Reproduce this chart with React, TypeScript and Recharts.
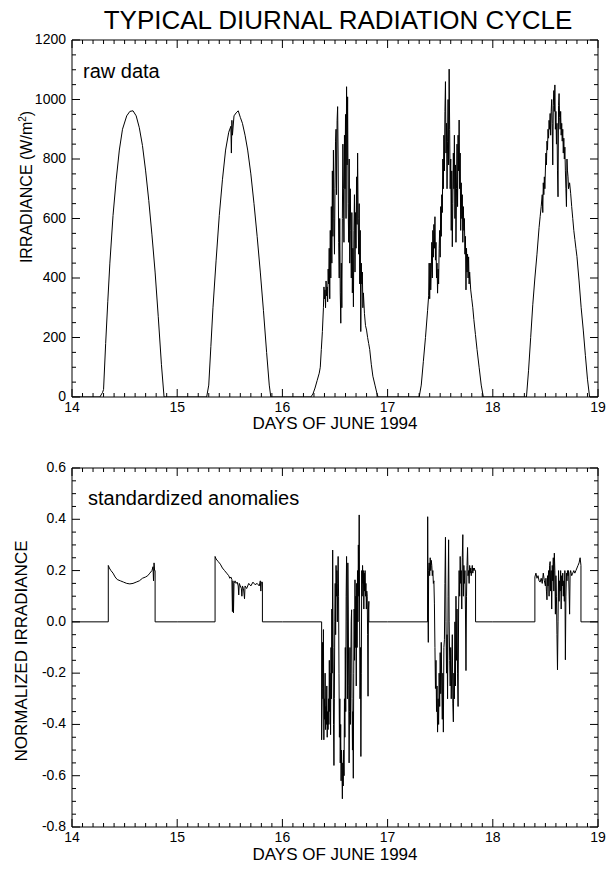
import { LineChart, Line, XAxis, YAxis } from 'recharts'

const FONT = '"Liberation Sans", Arial, Helvetica, sans-serif'

const dayTicks = [14, 15, 16, 17, 18, 19]
const irradianceTicks = [0, 200, 400, 600, 800, 1000, 1200]
const anomalyTicks = [-0.8, -0.6, -0.4, -0.2, 0, 0.2, 0.4, 0.6]

// raw irradiance (W/m2) as [day, value]
const rawJune14: [number, number][] = [
  [14, 0], [14.265, 0], [14.29, 15], [14.3, 25], [14.32, 180], [14.34, 320], [14.36, 450],
  [14.39, 610], [14.42, 730], [14.45, 830], [14.48, 900], [14.52, 945], [14.55, 960],
  [14.58, 962], [14.61, 945], [14.64, 905], [14.67, 845], [14.7, 760], [14.73, 660],
  [14.76, 545], [14.79, 420], [14.82, 270], [14.85, 110], [14.875, 0],
]
const rawJune15: [number, number][] = [
  [15, 0], [15.28, 0], [15.3, 40], [15.32, 170], [15.34, 300], [15.37, 460], [15.4, 610],
  [15.43, 730], [15.46, 830], [15.49, 890], [15.51, 910], [15.515, 820], [15.52, 930],
  [15.525, 880], [15.54, 945], [15.56, 955], [15.58, 962], [15.6, 940], [15.62, 920],
  [15.645, 880], [15.67, 830], [15.7, 750], [15.73, 650], [15.76, 540], [15.79, 420],
  [15.82, 290], [15.85, 150], [15.875, 40], [15.89, 0],
]
const rawJune16: [number, number][] = [
  [16, 0], [16.27, 0], [16.29, 10], [16.31, 30], [16.33, 55], [16.35, 80], [16.36, 100],
  [16.37, 160], [16.38, 220], [16.39, 300], [16.395, 370], [16.4, 330], [16.405, 360],
  [16.41, 300], [16.415, 390], [16.42, 340], [16.425, 370], [16.43, 320], [16.435, 430],
  [16.44, 380], [16.445, 500], [16.45, 330], [16.455, 560], [16.46, 400], [16.465, 640],
  [16.47, 450], [16.475, 760], [16.48, 540], [16.485, 830], [16.49, 600], [16.495, 480],
  [16.5, 700], [16.505, 860], [16.51, 900], [16.515, 680], [16.52, 930], [16.525, 976],
  [16.53, 800], [16.535, 520], [16.54, 400], [16.545, 600], [16.55, 350], [16.555, 248],
  [16.56, 450], [16.565, 300], [16.57, 600], [16.575, 850], [16.58, 700], [16.585, 520],
  [16.59, 880], [16.595, 700], [16.6, 950], [16.605, 600], [16.61, 1043], [16.615, 780],
  [16.62, 1009], [16.625, 650], [16.63, 520], [16.635, 800], [16.64, 450], [16.645, 700],
  [16.65, 560], [16.655, 400], [16.66, 620], [16.665, 350], [16.67, 500], [16.675, 303],
  [16.68, 560], [16.685, 680], [16.69, 420], [16.695, 620], [16.7, 500], [16.705, 740],
  [16.71, 580], [16.715, 820], [16.72, 600], [16.725, 480], [16.73, 650], [16.735, 380],
  [16.74, 560], [16.745, 220], [16.75, 450], [16.755, 380], [16.76, 420], [16.765, 300],
  [16.77, 350], [16.78, 280], [16.79, 240], [16.8, 225], [16.81, 200], [16.82, 180],
  [16.83, 160], [16.845, 110], [16.86, 70], [16.88, 40], [16.9, 10], [16.91, 0],
]
const rawJune17: [number, number][] = [
  [17, 0], [17.3, 0], [17.32, 40], [17.34, 120], [17.36, 200], [17.38, 290], [17.39, 340],
  [17.395, 450], [17.4, 330], [17.405, 450], [17.41, 360], [17.415, 420], [17.42, 520],
  [17.425, 400], [17.43, 560], [17.435, 470], [17.44, 580], [17.445, 500], [17.45, 606],
  [17.455, 460], [17.46, 520], [17.465, 400], [17.47, 450], [17.475, 349], [17.48, 430],
  [17.485, 380], [17.49, 500], [17.495, 560], [17.5, 470], [17.505, 640], [17.51, 540],
  [17.515, 680], [17.52, 620], [17.525, 800], [17.53, 700], [17.535, 880], [17.54, 760],
  [17.545, 960], [17.55, 1060], [17.555, 820], [17.56, 920], [17.565, 700], [17.57, 860],
  [17.575, 1000], [17.58, 780], [17.585, 1102], [17.59, 900], [17.595, 700], [17.6, 800],
  [17.605, 560], [17.61, 760], [17.615, 505], [17.62, 650], [17.625, 820], [17.63, 700],
  [17.635, 880], [17.64, 600], [17.645, 780], [17.65, 520], [17.655, 700], [17.66, 850],
  [17.665, 640], [17.67, 880], [17.675, 760], [17.68, 931], [17.685, 700], [17.69, 820],
  [17.695, 560], [17.7, 720], [17.705, 600], [17.71, 680], [17.715, 520], [17.72, 640],
  [17.725, 560], [17.73, 600], [17.735, 480], [17.74, 540], [17.745, 360], [17.75, 500],
  [17.755, 420], [17.76, 480], [17.765, 400], [17.77, 471], [17.775, 380], [17.78, 420],
  [17.79, 360], [17.8, 330], [17.81, 300], [17.82, 260], [17.835, 210], [17.85, 160],
  [17.87, 100], [17.89, 40], [17.91, 0],
]
const rawJune18: [number, number][] = [
  [18, 0], [18.32, 0], [18.34, 90], [18.36, 200], [18.38, 310], [18.4, 400], [18.42, 480],
  [18.44, 570], [18.45, 606], [18.46, 640], [18.47, 680], [18.475, 620], [18.48, 720],
  [18.485, 680], [18.49, 740], [18.495, 700], [18.5, 763], [18.505, 820], [18.51, 780],
  [18.515, 860], [18.52, 830], [18.525, 900], [18.53, 870], [18.535, 930], [18.54, 900],
  [18.545, 953], [18.55, 880], [18.555, 960], [18.56, 1000], [18.565, 920], [18.57, 780],
  [18.575, 980], [18.58, 1030], [18.585, 960], [18.59, 1049], [18.595, 900], [18.6, 960],
  [18.605, 850], [18.61, 920], [18.615, 760], [18.62, 673], [18.625, 980], [18.63, 1020],
  [18.635, 940], [18.64, 900], [18.645, 960], [18.65, 880], [18.655, 920], [18.66, 860],
  [18.665, 900], [18.67, 820], [18.675, 870], [18.68, 800], [18.685, 840], [18.69, 760],
  [18.695, 700], [18.7, 640], [18.705, 800], [18.71, 760], [18.715, 740], [18.72, 700],
  [18.73, 720], [18.74, 685], [18.75, 640], [18.76, 600], [18.77, 560], [18.78, 530],
  [18.79, 500], [18.8, 472], [18.82, 390], [18.84, 300], [18.86, 225], [18.88, 140],
  [18.9, 60], [18.92, 0], [19, 0],
]

// standardized anomalies as [day, value]
const anomJune14: [number, number][] = [
  [14, 0], [14.345, 0], [14.345, 0.22], [14.355, 0.21], [14.37, 0.2], [14.39, 0.19],
  [14.41, 0.175], [14.43, 0.165], [14.46, 0.16], [14.49, 0.155], [14.52, 0.15],
  [14.55, 0.148], [14.58, 0.15], [14.61, 0.155], [14.64, 0.16], [14.67, 0.17], [14.7, 0.175],
  [14.72, 0.18], [14.74, 0.19], [14.76, 0.2], [14.77, 0.215], [14.775, 0.16], [14.78, 0.23],
  [14.785, 0.2], [14.79, 0.2], [14.79, 0],
]
const anomJune15: [number, number][] = [
  [15, 0], [15.36, 0], [15.36, 0.255], [15.37, 0.245], [15.39, 0.235], [15.41, 0.225],
  [15.43, 0.21], [15.45, 0.2], [15.47, 0.19], [15.49, 0.18], [15.5, 0.17], [15.51, 0.175],
  [15.52, 0.165], [15.525, 0.04], [15.53, 0.16], [15.535, 0.035], [15.54, 0.15],
  [15.55, 0.16], [15.56, 0.15], [15.57, 0.155], [15.58, 0.14], [15.585, 0.105], [15.59, 0.15],
  [15.6, 0.14], [15.61, 0.13], [15.615, 0.1], [15.62, 0.14], [15.63, 0.13], [15.64, 0.09],
  [15.645, 0.14], [15.66, 0.13], [15.68, 0.15], [15.7, 0.14], [15.72, 0.155], [15.74, 0.145],
  [15.76, 0.15], [15.78, 0.14], [15.79, 0.16], [15.795, 0.12], [15.8, 0.155], [15.81, 0.155],
  [15.81, 0],
]
const anomJune16: [number, number][] = [
  [16, 0], [16.373, 0], [16.373, -0.46], [16.378, -0.26], [16.382, -0.08], [16.386, -0.3],
  [16.39, -0.03], [16.394, -0.46], [16.398, -0.3], [16.402, -0.38], [16.406, -0.2],
  [16.41, -0.42], [16.414, -0.33], [16.418, -0.4], [16.422, -0.25], [16.426, -0.45],
  [16.43, -0.35], [16.434, -0.42], [16.438, -0.3], [16.442, -0.4], [16.446, -0.15],
  [16.45, -0.35], [16.454, -0.2], [16.458, -0.44], [16.462, -0.1], [16.466, -0.3],
  [16.47, 0.05], [16.474, -0.2], [16.478, 0.28], [16.482, -0.1], [16.486, -0.4],
  [16.49, -0.56], [16.494, -0.3], [16.498, 0], [16.502, 0.15], [16.506, -0.05], [16.51, 0.22],
  [16.514, 0.1], [16.518, 0.2], [16.522, 0], [16.526, 0.15], [16.53, 0.255], [16.534, 0.1],
  [16.538, -0.2], [16.542, -0.45], [16.546, -0.3], [16.55, -0.55], [16.554, -0.4],
  [16.558, -0.62], [16.562, -0.5], [16.566, -0.58], [16.57, -0.69], [16.574, -0.55],
  [16.578, -0.64], [16.582, -0.5], [16.586, -0.6], [16.59, -0.3], [16.594, -0.45],
  [16.598, -0.1], [16.602, -0.35], [16.606, 0.1], [16.61, 0.255], [16.614, 0], [16.618, -0.3],
  [16.622, 0.23], [16.626, 0.05], [16.63, -0.25], [16.634, -0.55], [16.638, -0.35],
  [16.642, -0.1], [16.646, -0.4], [16.65, -0.2], [16.654, 0], [16.658, 0.047], [16.662, -0.3],
  [16.666, -0.5], [16.67, -0.35], [16.674, -0.61], [16.678, -0.2], [16.682, 0.05],
  [16.686, -0.15], [16.69, 0.164], [16.694, -0.1], [16.698, 0.1], [16.702, -0.25],
  [16.706, 0.15], [16.71, -0.1], [16.714, 0.2], [16.718, 0], [16.722, 0.3], [16.726, 0.1],
  [16.73, 0.417], [16.734, 0], [16.738, -0.3], [16.742, -0.1], [16.746, -0.525], [16.75, -0.2],
  [16.754, 0.2], [16.758, 0.1], [16.762, 0.22], [16.766, 0.15], [16.77, 0.2], [16.774, 0.05],
  [16.778, 0.19], [16.782, 0.12], [16.786, 0.2], [16.79, 0.1], [16.794, 0.15], [16.798, 0.05],
  [16.802, 0.12], [16.806, 0.1], [16.81, -0.05], [16.814, -0.29], [16.818, 0.05],
  [16.822, 0.08], [16.822, 0],
]
const anomJune17: [number, number][] = [
  [17, 0], [17.38, 0], [17.381, 0.41], [17.384, 0.05], [17.387, -0.08], [17.39, 0.2],
  [17.395, 0.23], [17.4, 0.18], [17.405, 0.25], [17.41, 0.2], [17.415, 0.24], [17.42, 0.22],
  [17.425, 0.18], [17.43, 0.2], [17.435, 0.15], [17.44, 0.16], [17.445, 0.07], [17.45, -0.1],
  [17.455, -0.26], [17.46, -0.15], [17.465, -0.35], [17.47, -0.25], [17.475, -0.43],
  [17.48, -0.3], [17.485, -0.4], [17.49, -0.2], [17.495, -0.33], [17.5, -0.12],
  [17.505, -0.28], [17.51, -0.08], [17.515, -0.25], [17.52, -0.38], [17.525, -0.2],
  [17.53, -0.43], [17.535, -0.1], [17.54, -0.07], [17.545, 0.15], [17.55, 0.33], [17.555, 0],
  [17.56, -0.2], [17.565, -0.05], [17.57, -0.3], [17.575, 0.1], [17.58, 0.32], [17.585, 0],
  [17.59, -0.15], [17.595, -0.25], [17.6, -0.1], [17.605, -0.3], [17.61, -0.18],
  [17.615, -0.05], [17.62, -0.32], [17.625, -0.39], [17.63, -0.2], [17.635, -0.3], [17.64, 0],
  [17.645, -0.25], [17.65, 0.1], [17.655, -0.15], [17.66, 0.05], [17.665, -0.2], [17.67, -0.33],
  [17.675, 0.05], [17.68, 0.2], [17.685, 0.1], [17.69, 0.255], [17.695, 0.15], [17.7, 0.2],
  [17.705, 0.05], [17.71, 0.25], [17.715, 0.34], [17.72, 0.1], [17.725, 0.22], [17.73, 0.15],
  [17.735, 0.2], [17.74, 0.05], [17.745, -0.19], [17.75, 0.1], [17.755, 0.22], [17.76, 0.29],
  [17.765, 0.18], [17.77, 0.2], [17.775, 0.15], [17.78, 0.22], [17.785, 0.19], [17.79, 0.21],
  [17.795, 0.18], [17.8, 0.2], [17.805, 0.22], [17.81, 0.19], [17.815, 0.21], [17.82, 0.2],
  [17.825, 0.21], [17.83, 0.2], [17.836, 0.2], [17.836, 0],
]
const anomJune18: [number, number][] = [
  [18, 0], [18.4, 0], [18.4, 0.175], [18.41, 0.19], [18.42, 0.17], [18.43, 0.18], [18.44, 0.16],
  [18.45, 0.155], [18.46, 0.17], [18.47, 0.15], [18.48, 0.19], [18.49, 0.16], [18.5, 0.14],
  [18.505, 0.17], [18.51, 0.12], [18.515, 0.086], [18.52, 0.18], [18.525, 0.14], [18.53, 0.2],
  [18.535, 0.1], [18.54, 0.22], [18.545, 0.235], [18.55, 0.12], [18.555, 0.2], [18.56, 0.05],
  [18.565, 0.22], [18.57, 0.16], [18.575, 0.25], [18.58, 0.12], [18.585, 0.268], [18.59, 0.2],
  [18.595, 0.03], [18.6, 0.18], [18.605, 0.1], [18.61, -0.05], [18.615, -0.187], [18.62, 0],
  [18.625, 0.2], [18.63, 0.08], [18.635, 0.16], [18.64, 0.12], [18.645, 0.2], [18.65, 0.05],
  [18.655, 0.18], [18.66, 0.14], [18.665, 0.19], [18.67, 0.1], [18.675, 0.16], [18.68, 0.08],
  [18.685, 0.2], [18.69, -0.148], [18.695, 0.1], [18.7, 0.19], [18.705, 0.16], [18.71, 0.2],
  [18.715, 0.18], [18.72, 0.2], [18.725, 0.12], [18.73, 0.03], [18.735, 0.19], [18.74, 0.2],
  [18.75, 0.18], [18.76, 0.19], [18.77, 0.2], [18.78, 0.19], [18.79, 0.2], [18.8, 0.21],
  [18.81, 0.22], [18.82, 0.23], [18.83, 0.25], [18.838, 0.22], [18.838, 0], [19, 0],
]

const toRows = (parts: [number, number][][]) =>
  parts.flat().map(([day, value]) => ({ day, value }))

const rawData = toRows([rawJune14, rawJune15, rawJune16, rawJune17, rawJune18])
const anomData = toRows([anomJune14, anomJune15, anomJune16, anomJune17, anomJune18])

// majors plus evenly spaced minor ticks between them
function withMinors(majors: number[], per: number) {
  const out: number[] = []
  for (let i = 0; i < majors.length - 1; i++) {
    const a = majors[i]
    const step = (majors[i + 1] - a) / per
    for (let k = 0; k < per; k++) out.push(Math.round((a + k * step) * 1000) / 1000)
  }
  out.push(majors[majors.length - 1])
  return out
}

const isMajor = (v: number, majors: number[]) => majors.some((m) => Math.abs(m - v) < 1e-6)

type Side = 'top' | 'bottom' | 'left' | 'right'

function AxisTick(props: any) {
  const { x, y, payload, side, majors, format } = props as {
    x: number
    y: number
    payload: { value: number }
    side: Side
    majors: number[]
    format?: (v: number) => string
  }
  const major = isMajor(payload.value, majors)
  const len = major ? 8 : 4
  let line = null
  let label = null
  if (side === 'bottom') {
    line = <line x1={x} y1={y} x2={x} y2={y - len} stroke="#000" />
    if (major && format)
      label = (
        <text x={x} y={y + 15} textAnchor="middle" fontSize={14} fontFamily={FONT} fill="#000">
          {format(payload.value)}
        </text>
      )
  } else if (side === 'top') {
    line = <line x1={x} y1={y} x2={x} y2={y + len} stroke="#000" />
  } else if (side === 'left') {
    line = <line x1={x} y1={y} x2={x + len} y2={y} stroke="#000" />
    if (major && format)
      label = (
        <text x={x - 6} y={y + 4} textAnchor="end" fontSize={14} fontFamily={FONT} fill="#000">
          {format(payload.value)}
        </text>
      )
  } else {
    line = <line x1={x} y1={y} x2={x - len} y2={y} stroke="#000" />
  }
  return (
    <g>
      {line}
      {label}
    </g>
  )
}

interface PanelProps {
  data: { day: number; value: number }[]
  height: number
  topPad: number
  bottomPad: number
  yDomain: [number, number]
  yMajors: number[]
  yPer: number
  yFormat: (v: number) => string
}

function Panel({ data, height, topPad, bottomPad, yDomain, yMajors, yPer, yFormat }: PanelProps) {
  const xAll = withMinors(dayTicks, 10)
  const yAll = withMinors(yMajors, yPer)
  const axisLine = { stroke: '#000', strokeWidth: 1 }
  return (
    <LineChart width={608} height={height} data={data} margin={{ top: 0, right: 0, bottom: 0, left: 0 }}>
      <XAxis
        xAxisId="b"
        dataKey="day"
        type="number"
        domain={[14, 19]}
        allowDataOverflow
        ticks={xAll}
        interval={0}
        height={bottomPad}
        tickSize={0}
        tickMargin={0}
        axisLine={axisLine}
        tickLine={false}
        tick={(p: any) => (
          <AxisTick {...p} side="bottom" majors={dayTicks} format={(v: number) => String(v)} />
        )}
      />
      <XAxis
        xAxisId="t"
        orientation="top"
        dataKey="day"
        type="number"
        domain={[14, 19]}
        allowDataOverflow
        ticks={xAll}
        interval={0}
        height={topPad}
        tickSize={0}
        tickMargin={0}
        axisLine={axisLine}
        tickLine={false}
        tick={(p: any) => <AxisTick {...p} side="top" majors={dayTicks} />}
      />
      <YAxis
        yAxisId="l"
        type="number"
        domain={yDomain}
        allowDataOverflow
        ticks={yAll}
        interval={0}
        width={72}
        tickSize={0}
        tickMargin={0}
        axisLine={axisLine}
        tickLine={false}
        tick={(p: any) => <AxisTick {...p} side="left" majors={yMajors} format={yFormat} />}
      />
      <YAxis
        yAxisId="r"
        orientation="right"
        type="number"
        domain={yDomain}
        allowDataOverflow
        ticks={yAll}
        interval={0}
        width={10}
        tickSize={0}
        tickMargin={0}
        axisLine={axisLine}
        tickLine={false}
        tick={(p: any) => <AxisTick {...p} side="right" majors={yMajors} />}
      />
      <Line
        xAxisId="b"
        yAxisId="l"
        type="linear"
        dataKey="value"
        stroke="#000"
        strokeWidth={1}
        dot={false}
        isAnimationActive={false}
      />
    </LineChart>
  )
}

export default function App() {
  const txt = { fontFamily: FONT, fill: '#000' }
  return (
    <div style={{ position: 'relative', width: 608, height: 869, background: '#fff' }}>
      <style>{'body{margin:0;background:#fff}'}</style>
      <div style={{ position: 'absolute', left: 0, top: 0 }}>
        <Panel
          data={rawData}
          height={430}
          topPad={40}
          bottomPad={33}
          yDomain={[0, 1200]}
          yMajors={irradianceTicks}
          yPer={4}
          yFormat={(v) => String(v)}
        />
      </div>
      <div style={{ position: 'absolute', left: 0, top: 430 }}>
        <Panel
          data={anomData}
          height={439}
          topPad={38}
          bottomPad={42}
          yDomain={[-0.8, 0.6]}
          yMajors={anomalyTicks}
          yPer={4}
          yFormat={(v) => v.toFixed(1)}
        />
      </div>
      <svg
        width={608}
        height={869}
        style={{ position: 'absolute', left: 0, top: 0, pointerEvents: 'none' }}
      >
        <text x={338} y={29} textAnchor="middle" fontSize={26} {...txt}>
          TYPICAL DIURNAL RADIATION CYCLE
        </text>
        <text x={83} y={78} fontSize={20} {...txt}>
          raw data
        </text>
        <text x={88} y={505} fontSize={20} {...txt}>
          standardized anomalies
        </text>
        <text x={335} y={429} textAnchor="middle" fontSize={17} {...txt}>
          DAYS OF JUNE 1994
        </text>
        <text x={335} y={860} textAnchor="middle" fontSize={17} {...txt}>
          DAYS OF JUNE 1994
        </text>
        <text transform="translate(31.5,187) rotate(-90)" textAnchor="middle" fontSize={16} {...txt}>
          IRRADIANCE (W/m<tspan fontSize={10} dy={-6}>2</tspan>
          <tspan dy={6}>)</tspan>
        </text>
        <text transform="translate(26.5,651) rotate(-90)" textAnchor="middle" fontSize={17} {...txt}>
          NORMALIZED IRRADIANCE
        </text>
      </svg>
    </div>
  )
}
